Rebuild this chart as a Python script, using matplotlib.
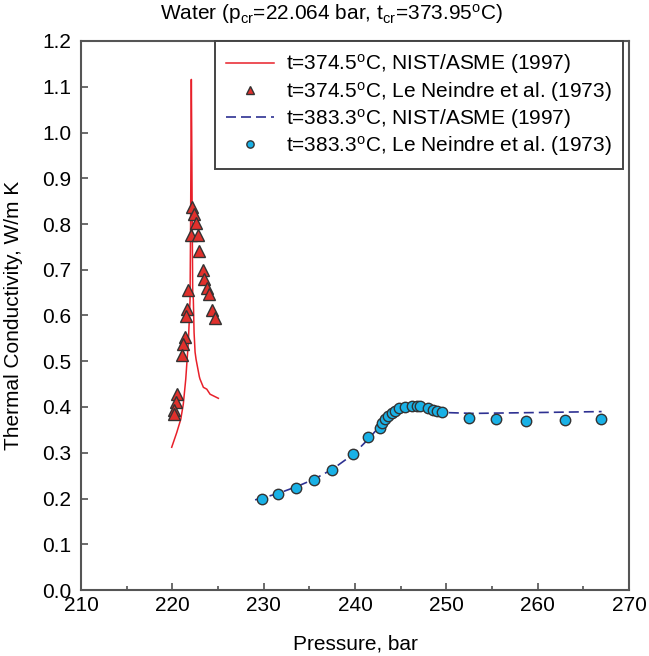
import numpy as np
import matplotlib
matplotlib.use("Agg")
import matplotlib.pyplot as plt
from matplotlib.ticker import MultipleLocator, FormatStrFormatter

plt.rcParams['font.family'] = ['Liberation Sans', 'DejaVu Sans']
plt.rcParams['mathtext.fontset'] = 'custom'
plt.rcParams['mathtext.rm'] = 'Liberation Sans'
plt.rcParams['mathtext.it'] = 'Liberation Sans:italic'

# t=374.5 C, NIST/ASME (1997) - left branch up to the peak, then right branch down
nist_374_p = [219.93, 220.48, 220.92, 221.20, 221.47, 221.57, 221.75, 221.86, 221.94,
              222.00, 222.05, 222.08, 222.12, 222.18, 222.23, 222.30, 222.38, 222.49,
              222.60, 222.96, 223.03, 223.40, 223.77, 224.13, 225.04]
nist_374_k = [0.312, 0.344, 0.373, 0.406, 0.461, 0.490, 0.541, 0.592, 0.635,
              0.800, 1.000, 1.116, 1.000, 0.800, 0.650, 0.635, 0.563, 0.520,
              0.504, 0.466, 0.461, 0.443, 0.439, 0.428, 0.419]

# t=374.5 C, Le Neindre et al. (1973)
exp_374_p = [222.12, 222.38, 222.60, 222.00, 222.78, 222.89, 223.33, 223.47, 223.77,
             224.05, 221.75, 221.57, 221.46, 224.34, 224.64, 221.35, 221.17, 221.06,
             220.48, 220.37, 220.20, 220.20]
exp_374_k = [0.837, 0.822, 0.803, 0.777, 0.777, 0.742, 0.699, 0.679, 0.660,
             0.646, 0.656, 0.615, 0.600, 0.611, 0.595, 0.554, 0.537, 0.513,
             0.428, 0.410, 0.394, 0.384]

# t=383.3 C, NIST/ASME (1997)
nist_383_p = [229.06, 231.43, 233.62, 235.50, 237.53, 239.83, 241.47, 242.75, 243.84,
              244.94, 246.40, 247.86, 249.68, 252.97, 260.30, 267.00]
nist_383_k = [0.197, 0.210, 0.226, 0.242, 0.264, 0.297, 0.330, 0.359, 0.382,
              0.397, 0.404, 0.399, 0.388, 0.386, 0.388, 0.390]

# t=383.3 C, Le Neindre et al. (1973)
exp_383_p = [229.79, 231.54, 233.55, 235.52, 237.49, 239.83, 241.43, 242.75, 242.93,
             243.30, 243.66, 244.03, 244.39, 244.86, 245.49, 246.22, 246.77, 247.13,
             248.04, 248.52, 249.03, 249.57, 252.53, 255.45, 258.74, 263.01, 266.96]
exp_383_k = [0.200, 0.209, 0.224, 0.241, 0.263, 0.297, 0.335, 0.355, 0.365,
             0.373, 0.381, 0.386, 0.392, 0.397, 0.400, 0.402, 0.402, 0.402,
             0.397, 0.394, 0.392, 0.389, 0.376, 0.373, 0.369, 0.372, 0.373]

lab1 = r't=374.5$^\mathrm{o}$C, NIST/ASME (1997)'
lab2 = r't=374.5$^\mathrm{o}$C, Le Neindre et al. (1973)'
lab3 = r't=383.3$^\mathrm{o}$C, NIST/ASME (1997)'
lab4 = r't=383.3$^\mathrm{o}$C, Le Neindre et al. (1973)'
FS = 15

fig = plt.figure(figsize=(6.49, 6.56), dpi=100)
ax = fig.add_axes([81/649, 1-590/656, 548/649, 549/656])

l1, = ax.plot(nist_374_p, nist_374_k, color='#e8202a', lw=1.1, label=lab1, zorder=2)
l2, = ax.plot(exp_374_p, exp_374_k, ls='none', marker='^', ms=8.5, mfc='#e0302c',
              mec='#333333', mew=1.0, label=lab2, zorder=3)
l3, = ax.plot(nist_383_p, nist_383_k, color='#2e3192', lw=1.2, dashes=(6, 3), label=lab3, zorder=2)
l4, = ax.plot(exp_383_p, exp_383_k, ls='none', marker='o', ms=7.5, mfc='#19b1e6',
              mec='#333333', mew=1.0, label=lab4, zorder=3)

ax.set_xlim(210, 270)
ax.set_ylim(0, 1.2)
ax.xaxis.set_major_locator(MultipleLocator(10))
ax.xaxis.set_minor_locator(MultipleLocator(5))
ax.yaxis.set_major_locator(MultipleLocator(0.1))
ax.yaxis.set_major_formatter(FormatStrFormatter('%.1f'))
ax.tick_params(which='both', direction='in', top=False, right=False, labelsize=FS, color='#444444')
ax.tick_params(axis='y', pad=7)
ax.tick_params(axis='x', pad=4)
ax.tick_params(which='major', length=5, width=1.1)
ax.tick_params(which='minor', length=3, width=1.1)
for s in ax.spines.values():
    s.set_color('#555555')
    s.set_linewidth(1.5)

ax.set_xlabel('Pressure, bar', fontsize=FS, va='center')
ax.xaxis.set_label_coords(0.5, -(644-590)/549)
ax.set_ylabel('Thermal Conductivity, W/m K', fontsize=FS, va='center')
ax.yaxis.set_label_coords(-(81-14)/548, 0.5)
fig.text(0.51, 1-14/656, r'Water (p$_\mathrm{cr}$=22.064 bar, t$_\mathrm{cr}$=373.95$^\mathrm{o}$C)',
         fontsize=FS, ha='center', va='center')

leg = ax.legend(handles=[l1, l2, l3, l4], loc='upper right', bbox_to_anchor=(542/548, 1.0),
                borderaxespad=0, fontsize=FS, handlelength=2.3, markerscale=0.7,
                fancybox=False, frameon=True, labelspacing=0.15, handletextpad=0.55, borderpad=0.55)
leg.get_frame().set_edgecolor('#444444')
leg.get_frame().set_linewidth(1.4)
leg.get_frame().set_alpha(1)

plt.savefig('out.png', dpi=100)
